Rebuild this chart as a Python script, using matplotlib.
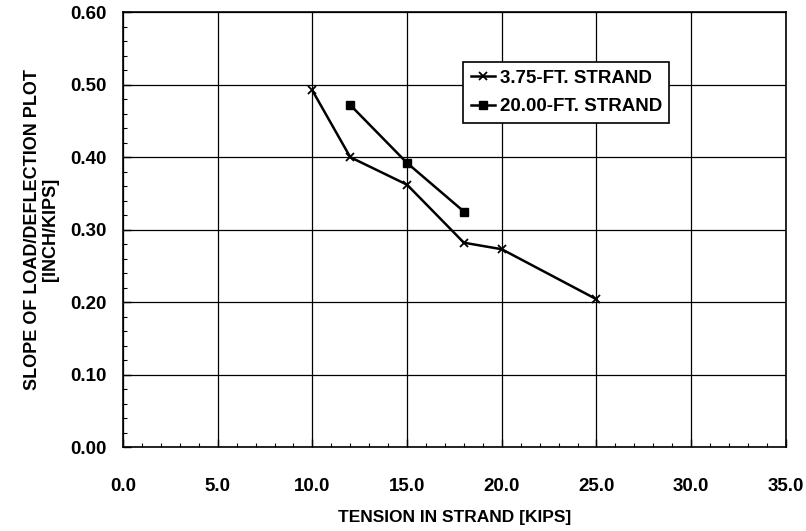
import numpy as np
import matplotlib.pyplot as plt
from matplotlib.ticker import MultipleLocator, FormatStrFormatter

plt.rcParams['font.family'] = ['Liberation Sans', 'DejaVu Sans']
plt.rcParams['font.weight'] = 'bold'
plt.rcParams['axes.labelweight'] = 'bold'

# 3.75-ft strand
tension_short = [10, 12, 15, 18, 20, 25]
slope_short = [0.492, 0.400, 0.362, 0.282, 0.273, 0.204]

# 20.00-ft strand
tension_long = [12, 15, 18]
slope_long = [0.472, 0.392, 0.325]

fig = plt.figure(figsize=(8.06, 5.31), dpi=100)
ax = fig.add_axes([0.1526, 0.158, 0.8224, 0.819])

ax.plot(tension_short, slope_short, color="black", lw=1.8, marker="x",
        ms=6, mew=1.3, label="3.75-FT. STRAND")
ax.plot(tension_long, slope_long, color="black", lw=1.8, marker="s",
        ms=6, label="20.00-FT. STRAND")

ax.set_xlim(0, 35)
ax.set_ylim(0, 0.6)
ax.xaxis.set_major_locator(MultipleLocator(5))
ax.xaxis.set_minor_locator(MultipleLocator(1))
ax.yaxis.set_major_locator(MultipleLocator(0.1))
ax.yaxis.set_minor_locator(MultipleLocator(0.02))
ax.xaxis.set_major_formatter(FormatStrFormatter("%.1f"))
ax.yaxis.set_major_formatter(FormatStrFormatter("%.2f"))
ax.tick_params(which="both", direction="in", colors="black", labelsize=13.5)
ax.tick_params(which="major", length=6, width=1)
ax.tick_params(which="minor", length=3, width=0.8)
ax.tick_params(axis="x", pad=22)
ax.tick_params(axis="y", pad=12)

ax.grid(True, which="major", color="black", lw=0.9)
for s in ax.spines.values():
    s.set_color("black")
    s.set_linewidth(1.2)

ax.set_xlabel("TENSION IN STRAND [KIPS]", fontsize=12.5, labelpad=11)
ax.set_ylabel("SLOPE OF LOAD/DEFLECTION PLOT\n[INCH/KIPS]", fontsize=13,
              labelpad=8, linespacing=1.1)

leg = ax.legend(loc="upper left", bbox_to_anchor=(0.513, 0.885),
                borderaxespad=0, fontsize=13.5, frameon=True, fancybox=False,
                framealpha=1, edgecolor="black", handlelength=1.3,
                handletextpad=0.25, borderpad=0.4, labelspacing=0.6)
leg.get_frame().set_linewidth(1.2)

fig.savefig("out.png", dpi=100)
